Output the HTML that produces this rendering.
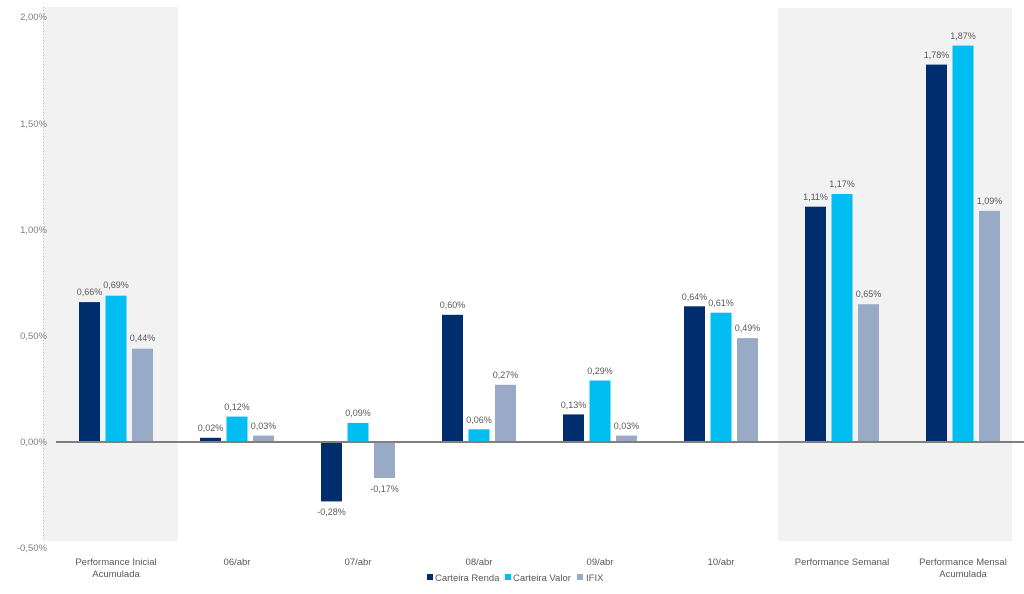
<!DOCTYPE html>
<html><head><meta charset="utf-8"><style>
html,body{margin:0;padding:0;background:#fff;}
svg{display:block;font-family:"Liberation Sans",sans-serif;}
.t{font-size:9px;fill:#595959;text-anchor:middle;}
.a{font-size:9.5px;fill:#7f7f7f;text-anchor:end;}
.c{font-size:9.5px;fill:#595959;text-anchor:middle;}
.d{fill:#002d6e}.b{fill:#00bdf2}.g{fill:#98aac6}
</style></head><body>
<svg width="1024" height="594" viewBox="0 0 1024 594">
<rect x="43" y="7" width="135" height="534" fill="#f2f2f2"/>
<rect x="778" y="8" width="234" height="533" fill="#f2f2f2"/>
<line x1="43.5" y1="7" x2="43.5" y2="541" stroke="#bfbfbf" stroke-dasharray="1,2"/>
<text class="a" x="47" y="20">2,00%</text>
<text class="a" x="47" y="127">1,50%</text>
<text class="a" x="47" y="233">1,00%</text>
<text class="a" x="47" y="339">0,50%</text>
<text class="a" x="47" y="445">0,00%</text>
<text class="a" x="47" y="551">-0,50%</text>

<!-- G1 -->
<rect class="d" x="79" y="302.1" width="21" height="139.9"/>
<rect class="b" x="105.5" y="295.7" width="21" height="146.3"/>
<rect class="g" x="132" y="348.7" width="21" height="93.3"/>
<text class="t" x="89.5" y="295">0,66%</text><text class="t" x="116" y="288">0,69%</text><text class="t" x="142.5" y="341">0,44%</text>
<!-- G2 -->
<rect class="d" x="200" y="437.8" width="21" height="4.2"/>
<rect class="b" x="226.5" y="416.6" width="21" height="25.4"/>
<rect class="g" x="253" y="435.6" width="21" height="6.4"/>
<text class="t" x="210.5" y="431">0,02%</text><text class="t" x="237" y="410">0,12%</text><text class="t" x="263.5" y="429">0,03%</text>
<!-- G3 -->
<rect class="d" x="321" y="442" width="21" height="59.4"/>
<rect class="b" x="347.5" y="422.9" width="21" height="19.1"/>
<rect class="g" x="374" y="442" width="21" height="36"/>
<text class="t" x="331.5" y="515">-0,28%</text><text class="t" x="358" y="416">0,09%</text><text class="t" x="384.5" y="492">-0,17%</text>
<!-- G4 -->
<rect class="d" x="442" y="314.8" width="21" height="127.2"/>
<rect class="b" x="468.5" y="429.3" width="21" height="12.7"/>
<rect class="g" x="495" y="384.8" width="21" height="57.2"/>
<text class="t" x="452.5" y="308">0,60%</text><text class="t" x="479" y="423">0,06%</text><text class="t" x="505.5" y="378">0,27%</text>
<!-- G5 -->
<rect class="d" x="563" y="414.4" width="21" height="27.6"/>
<rect class="b" x="589.5" y="380.5" width="21" height="61.5"/>
<rect class="g" x="616" y="435.6" width="21" height="6.4"/>
<text class="t" x="573.5" y="408">0,13%</text><text class="t" x="600" y="374">0,29%</text><text class="t" x="626.5" y="429">0,03%</text>
<!-- G6 -->
<rect class="d" x="684" y="306.3" width="21" height="135.7"/>
<rect class="b" x="710.5" y="312.7" width="21" height="129.3"/>
<rect class="g" x="737" y="338.1" width="21" height="103.9"/>
<text class="t" x="694.5" y="300">0,64%</text><text class="t" x="721" y="306">0,61%</text><text class="t" x="747.5" y="331">0,49%</text>
<!-- G7 -->
<rect class="d" x="805" y="206.7" width="21" height="235.3"/>
<rect class="b" x="831.5" y="194" width="21" height="248"/>
<rect class="g" x="858" y="304.2" width="21" height="137.8"/>
<text class="t" x="815.5" y="200">1,11%</text><text class="t" x="842" y="187">1,17%</text><text class="t" x="868.5" y="297">0,65%</text>
<!-- G8 -->
<rect class="d" x="926" y="64.6" width="21" height="377.4"/>
<rect class="b" x="952.5" y="45.6" width="21" height="396.4"/>
<rect class="g" x="979" y="210.9" width="21" height="231.1"/>
<text class="t" x="936.5" y="58">1,78%</text><text class="t" x="963" y="39">1,87%</text><text class="t" x="989.5" y="204">1,09%</text>

<line x1="56" y1="442" x2="1024" y2="442" stroke="#7f7f7f" stroke-width="2"/>

<text class="c" x="116" y="565">Performance Inicial</text>
<text class="c" x="116" y="577">Acumulada</text>
<text class="c" x="237" y="565">06/abr</text>
<text class="c" x="358" y="565">07/abr</text>
<text class="c" x="479" y="565">08/abr</text>
<text class="c" x="600" y="565">09/abr</text>
<text class="c" x="721" y="565">10/abr</text>
<text class="c" x="842" y="565">Performance Semanal</text>
<text class="c" x="963" y="565">Performance Mensal</text>
<text class="c" x="963" y="577">Acumulada</text>

<rect class="d" x="427" y="574" width="6" height="6"/>
<text x="435" y="581" style="font-size:9.5px;fill:#595959">Carteira Renda</text>
<rect class="b" x="505" y="574" width="6" height="6"/>
<text x="513" y="581" style="font-size:9.5px;fill:#595959">Carteira Valor</text>
<rect class="g" x="577" y="574" width="6" height="6"/>
<text x="586" y="581" style="font-size:9.5px;fill:#595959">IFIX</text>
</svg>
</body></html>
